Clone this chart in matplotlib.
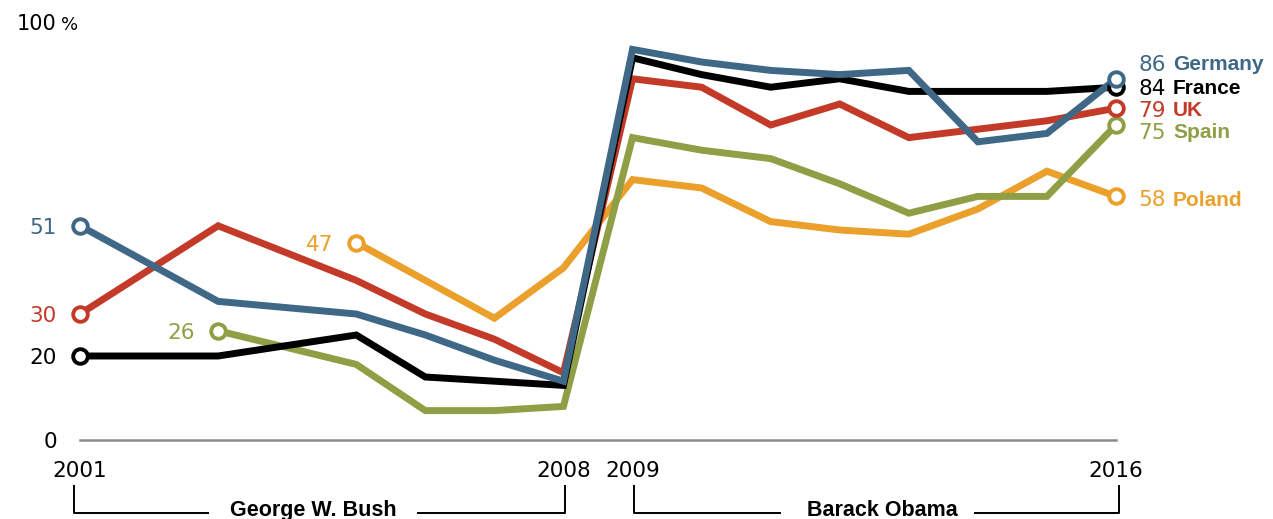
import matplotlib
matplotlib.use("Agg")
import matplotlib.pyplot as plt
from matplotlib.transforms import ScaledTranslation

years_germany = [2001, 2003, 2005, 2006, 2007, 2008, 2009, 2010, 2011, 2012, 2013, 2014, 2015, 2016]
germany = [51, 33, 30, 25, 19, 14, 93, 90, 88, 87, 88, 71, 73, 86]
years_france = [2001, 2003, 2005, 2006, 2007, 2008, 2009, 2010, 2011, 2012, 2013, 2014, 2015, 2016]
france = [20, 20, 25, 15, 14, 13, 91, 87, 84, 86, 83, 83, 83, 84]
years_uk = [2001, 2003, 2005, 2006, 2007, 2008, 2009, 2010, 2011, 2012, 2013, 2014, 2015, 2016]
uk = [30, 51, 38, 30, 24, 16, 86, 84, 75, 80, 72, 74, 76, 79]
years_spain = [2003, 2005, 2006, 2007, 2008, 2009, 2010, 2011, 2012, 2013, 2014, 2015, 2016]
spain = [26, 18, 7, 7, 8, 72, 69, 67, 61, 54, 58, 58, 75]
years_poland = [2005, 2007, 2008, 2009, 2010, 2011, 2012, 2013, 2014, 2015, 2016]
poland = [47, 29, 41, 62, 60, 52, 50, 49, 55, 64, 58]

names = ["Poland", "Spain", "UK", "France", "Germany"]
colors = {"Germany": "#3e6886", "France": "#000000", "UK": "#c33b28",
          "Spain": "#8f9f45", "Poland": "#eaa02a"}
series = {"Germany": (years_germany, germany), "France": (years_france, france),
          "UK": (years_uk, uk), "Spain": (years_spain, spain), "Poland": (years_poland, poland)}
tick_years = [2001, 2008, 2009, 2016]
presidents = ["George W. Bush", "Barack Obama"]

W, H = 1273, 519
fig = plt.figure(figsize=(W / 100, H / 100), dpi=100)
x0, x1 = 80, 1116
y0, y1 = 440, 20
ax = fig.add_axes([x0 / W, (H - y0) / H, (x1 - x0) / W, (y0 - y1) / H])
ax.set_xlim(2001, 2016)
ax.set_ylim(0, 100)
ax.axis("off")

num_font = ["DejaVu Sans"]
bold_font = ["Liberation Sans", "DejaVu Sans"]
NUM = 15.5

ax.plot([2001, 2016], [0, 0], color="#8c8c8c", lw=1.8, clip_on=False, zorder=1)

for i, n in enumerate(names):
    xs, ys = series[n]
    ax.plot(xs, ys, color=colors[n], lw=5.0, solid_joinstyle="miter",
            solid_capstyle="butt", clip_on=False, zorder=2 + i)
    ax.plot([xs[0], xs[-1]], [ys[0], ys[-1]], "o", ms=10.5, mfc="white",
            mec=colors[n], mew=2.8, clip_on=False, zorder=10 + i)

def px(dx, dy=0):
    return ScaledTranslation(dx / 100, dy / 100, fig.dpi_scale_trans)

# left labels
for n in names:
    xs, ys = series[n]
    ax.text(xs[0], ys[0], str(ys[0]), color=colors[n], fontsize=NUM, family=num_font,
            ha="right", va="center_baseline", transform=ax.transData + px(-23))

# right labels
right_y = {"Germany": 63, "France": 87, "UK": 109, "Spain": 131, "Poland": 198}
for n in names:
    xs, ys = series[n]
    yd = (y0 - right_y[n]) / (y0 - y1) * 100
    ax.text(2016, yd, str(ys[-1]), color=colors[n], fontsize=NUM, family=num_font,
            ha="left", va="center_baseline", transform=ax.transData + px(22))
    ax.text(2016, yd, n, color=colors[n], fontsize=15, family=bold_font, fontweight="bold",
            ha="left", va="center_baseline", transform=ax.transData + px(57))

# y labels
ax.text(2001, 0, "0", fontsize=NUM, family=num_font, ha="right", va="center_baseline",
        transform=ax.transData + px(-23))
fig.text(17 / W, 1 - 22 / H, "100", fontsize=15, family=num_font, ha="left",
         va="center_baseline")
fig.text(61 / W, 1 - 23 / H, "%", fontsize=13, family=num_font, ha="left",
         va="center_baseline")

# year ticks
for yr in tick_years:
    ax.text(yr, 0, str(yr), fontsize=NUM, family=num_font, ha="center",
            va="center_baseline", transform=ax.transData + px(0, -29))

# president brackets (pixel layout)
def fx(p):
    return p / W

def fy(p):
    return 1 - p / H

brackets = [
    (presidents[0], 74, 208, 313, 418, 565),
    (presidents[1], 634, 780, 882, 975, 1119),
]
ytop, ybot = fy(486), fy(513)
for label, a, la, mid, rb, b in brackets:
    fig.add_artist(plt.Line2D([fx(a), fx(a), fx(la)], [ytop, ybot, ybot], color="black",
                              lw=1.4, transform=fig.transFigure))
    fig.add_artist(plt.Line2D([fx(rb), fx(b), fx(b)], [ybot, ybot, ytop], color="black",
                              lw=1.4, transform=fig.transFigure))
    fig.text(fx(mid), fy(508), label, fontsize=15.5, family=bold_font, fontweight="bold",
             ha="center", va="center_baseline")

fig.savefig("out.png", dpi=100)
